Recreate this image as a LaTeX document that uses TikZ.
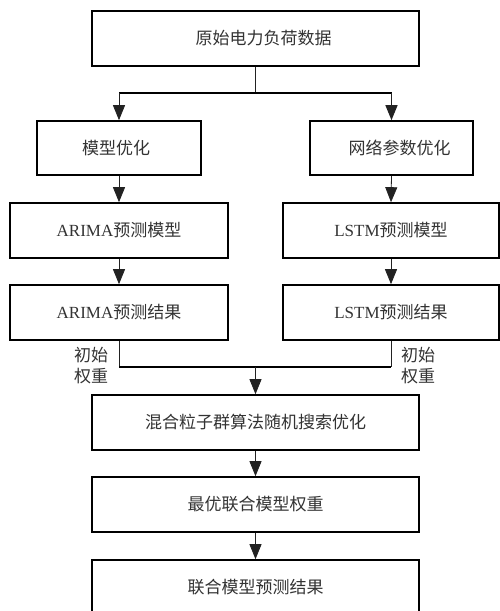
\documentclass[tikz,border=0pt]{standalone}
\usepackage{fontspec}
\setmainfont{Liberation Serif}
\newfontfamily\cjk{Noto Sans CJK SC}
\usetikzlibrary{arrows.meta}
\definecolor{txt}{HTML}{333333}
\definecolor{ln}{HTML}{222222}
\begin{document}
\begin{tikzpicture}[x=1pt,y=-1pt,
  box/.style={draw=black,line width=1.6pt,fill=white,inner sep=0pt,text=txt,font=\fontsize{17}{20}\selectfont},
  conn/.style={draw=ln,line width=0.8pt},
  thick conn/.style={draw=black,line width=1.8pt},
  arr/.style={conn,-{Triangle[length=15pt,width=12pt]}},
  lbl/.style={text=txt,font=\fontsize{17}{21}\selectfont\cjk,align=left,inner sep=0pt}]
\useasboundingbox (0,0) rectangle (500,611);
\begin{scope}
\clip (0,0) rectangle (500,611);
\node[box,minimum width=327pt,minimum height=55pt] (top) at (255.5,38.5) {\hspace*{16pt}\raisebox{-3pt}{\cjk 原始电力负荷数据}};
\node[box,minimum width=164pt,minimum height=54pt] (mo) at (119,148) {{\cjk 模型优化}\hspace*{6pt}};
\node[box,minimum width=163pt,minimum height=54pt] (wl) at (391.5,148) {\hspace*{16pt}\cjk 网络参数优化};
\node[box,minimum width=218pt,minimum height=55pt] (arm) at (119,230.5) {ARIMA{\cjk 预测模型}};
\node[box,minimum width=216pt,minimum height=55pt] (lsm) at (391,230.5) {LSTM{\cjk 预测模型}};
\node[box,minimum width=218pt,minimum height=55pt] (arr) at (119,312.5) {ARIMA{\cjk 预测结果}};
\node[box,minimum width=216pt,minimum height=55pt] (lsr) at (391,312.5) {LSTM{\cjk 预测结果}};
\node[box,minimum width=327pt,minimum height=55pt] (hyb) at (255.5,422.5) {\cjk 混合粒子群算法随机搜索优化};
\node[box,minimum width=327pt,minimum height=55pt] (opt) at (255.5,504.5) {\cjk 最优联合模型权重};
\node[box,minimum width=327pt,minimum height=55pt] (fin) at (255.5,587.5) {\cjk 联合模型预测结果};

\coordinate (sp) at (255.5,93);
\coordinate (spL) at (mo.north |- sp);
\coordinate (spR) at (wl.north |- sp);
\draw[conn] (top.south) -- (sp);
\draw[thick conn] (spL) -- (spR);
\draw[arr] (spL) -- (mo.north);
\draw[arr,line width=1.2pt] (spR) -- (wl.north);
\draw[arr] (mo.south) -- (arm.north);
\draw[arr] (wl.south) -- (lsm.north);
\draw[arr] (arm.south) -- (arr.north);
\draw[arr] (lsm.south) -- (lsr.north);

\coordinate (mg) at (255.5,367);
\coordinate (mgL) at (arr.south |- mg);
\coordinate (mgR) at (lsr.south |- mg);
\draw[conn] (arr.south) -- (mgL);
\draw[conn] (lsr.south) -- (mgR);
\draw[thick conn] (mgL) -- (mgR);
\draw[arr] (mg) -- (hyb.north);
\draw[arr] (hyb.south) -- (opt.north);
\draw[arr] (opt.south) -- (fin.north);

\node[lbl] (wL) at (91,366) {初始\\权重};
\node[lbl] (wR) at (418,366) {初始\\权重};
\end{scope}
\end{tikzpicture}
\end{document}
